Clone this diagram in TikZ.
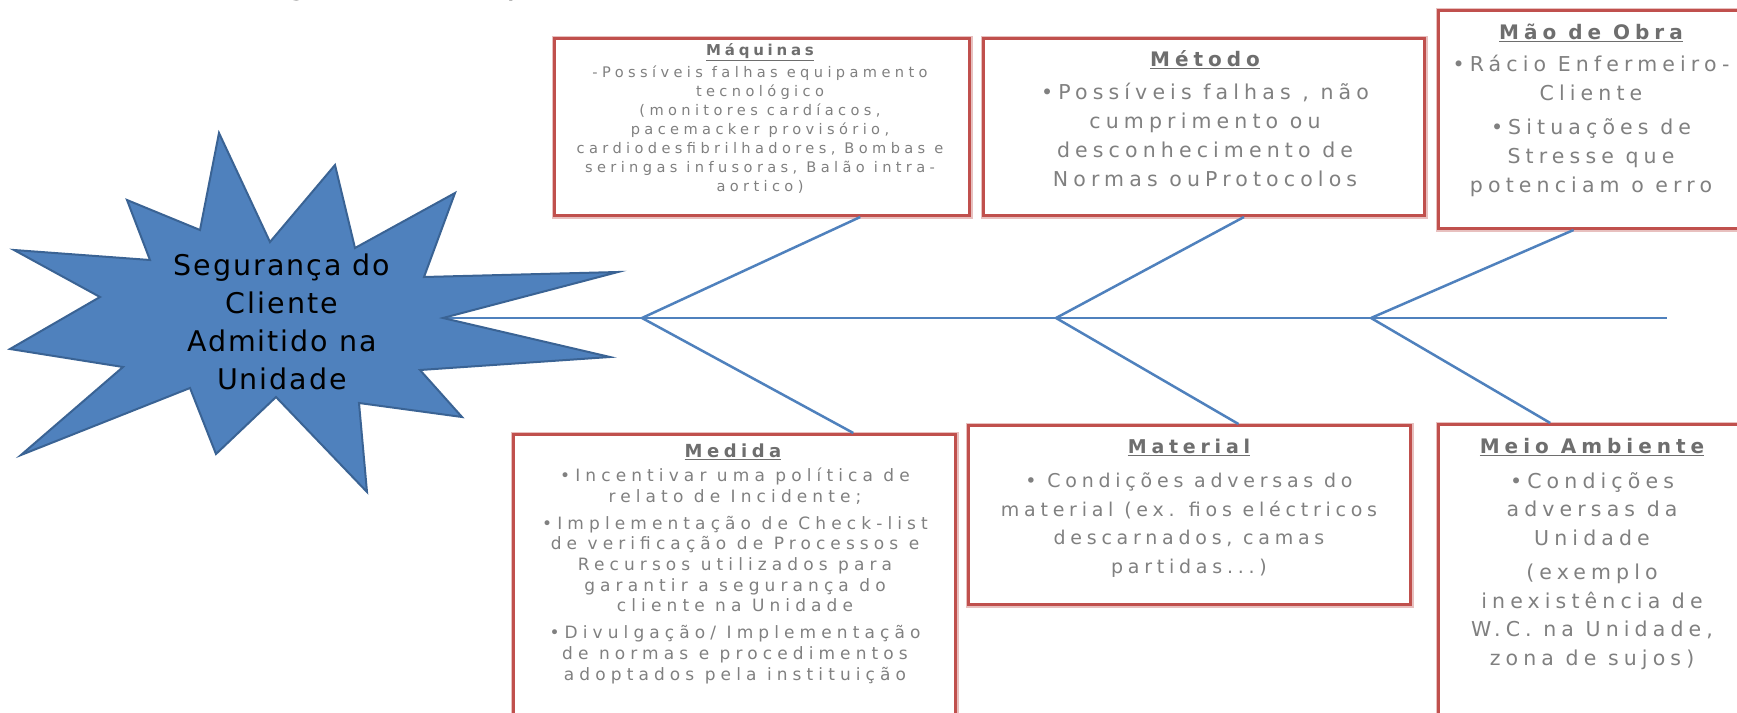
\documentclass[tikz,border=0pt]{standalone}
\usepackage{fontspec}
\setmainfont{DejaVu Sans}
\newfontfamily\bxf[LetterSpace=25]{DejaVu Sans}
\newfontfamily\bxfm[LetterSpace=30]{DejaVu Sans}
\newfontfamily\stf[LetterSpace=7]{DejaVu Sans}
\usetikzlibrary{calc}
\definecolor{boxred}{HTML}{C0504D}
\definecolor{boxpink}{HTML}{E8C0BF}
\definecolor{fishblue}{HTML}{4F81BD}
\definecolor{stardark}{HTML}{3A6394}
\definecolor{txtgray}{HTML}{808080}
\definecolor{ttlgray}{HTML}{6E6E6E}
\tikzset{
  causebox/.style={preaction={draw=boxpink,line width=6pt}, draw=boxred, line width=3pt, fill=white, inner sep=0pt, anchor=north west},
  bone/.style={draw=fishblue, line width=2.5pt},
  ttl/.style={text=ttlgray, inner sep=0pt},
  body/.style={text=txtgray, inner sep=0pt, align=center, anchor=base},
}
\newcommand{\ul}[1]{\underline{#1}}
\lineskiplimit=-100pt
\begin{document}
\begin{tikzpicture}[x=1pt,y=-1pt]
\useasboundingbox (0,0) rectangle (1737,712);
\clip (0,0) rectangle (1737,712);
\fill[white] (0,0) rectangle (1737,712);
% partially visible title
\node[anchor=base west, inner sep=0pt, font=\fontsize{35}{40}\selectfont] (title) at (228,-6) {Diagrama de Espinha de Peixe};
% spine and bones
\coordinate (head) at (443,318);
\coordinate (tail) at (1667,318);
\coordinate (b1) at (642,318);
\coordinate (b2) at (1056,318);
\coordinate (b3) at (1371,318);
\draw[bone] (head) -- (tail);
% boxes
\node[causebox, minimum width=415pt, minimum height=177pt] (maq) at (553,37) {};
\node[causebox, minimum width=441pt, minimum height=177pt] (met) at (982,37) {};
\node[causebox, minimum width=330pt, minimum height=218pt] (mao) at (1437,9) {};
\node[causebox, minimum width=442pt, minimum height=310pt] (med) at (512,433) {};
\node[causebox, minimum width=442pt, minimum height=179pt] (mat) at (967,424) {};
\node[causebox, minimum width=330pt, minimum height=320pt] (mei) at (1437,423) {};
\draw[bone] (b1) -- ($(maq.south west)!0.735!(maq.south east)$);
\draw[bone] (b1) -- ($(med.north west)!0.767!(med.north east)$);
\draw[bone] (b2) -- ($(met.south west)!0.59!(met.south east)$);
\draw[bone] (b2) -- ($(mat.north west)!0.61!(mat.north east)$);
\draw[bone] (b3) -- ($(mao.south west)!0.41!(mao.south east)$);
\draw[bone] (b3) -- ($(mei.north west)!0.34!(mei.north east)$);
% star
\filldraw[fill=fishblue, draw=stardark, line width=2pt]
  (219,133) -- (270,242) -- (335,165) -- (355,248) -- (455,193) -- (424,277)
  -- (618,272) -- (443,318) -- (610,357) -- (420,370) -- (462,417) -- (359,403)
  -- (367,492) -- (276,397) -- (216,454) -- (190,388) -- (21,455) -- (123,367)
  -- (10,349) -- (100,297) -- (14,250) -- (150,260) -- (127,200) -- (200,230) -- cycle;
\node[align=center, inner sep=0pt, font=\stf\fontsize{28.5}{38}\selectfont] (star) at (282,322)
  {Segurança do\\Cliente\\Admitido na\\Unidade};
% titles
\node[ttl, font=\bxf\bfseries\fontsize{15}{18}\selectfont] (maqt) at (760,52) {\ul{Máquinas}};
\node[ttl, font=\bxf\bfseries\fontsize{20}{22}\selectfont] (mett) at (1205,60) {\ul{Método}};
\node[ttl, font=\bxf\bfseries\fontsize{20}{22}\selectfont] (maot) at (1591,33) {\ul{Mão de Obra}};
\node[ttl, font=\bxf\bfseries\fontsize{18}{22}\selectfont] (medt) at (733,452) {\ul{Medida}};
\node[ttl, font=\bxf\bfseries\fontsize{19}{22}\selectfont] (matt) at (1189,447) {\ul{Material}};
\node[ttl, font=\bxf\bfseries\fontsize{20}{22}\selectfont] (meit) at (1592,447) {\ul{Meio Ambiente}};
% bodies (base anchor = baseline of last line)
\node[body, font=\bxfm\fontsize{14.6}{19}\selectfont] (maqb) at (760,191)
  {-Possíveis falhas equipamento\\tecnológico\\(monitores cardíacos,\\pacemacker provisório,\\cardiodesfibrilhadores, Bombas e\\seringas infusoras, Balão intra-\\aortico)};
\node[body, font=\bxf\fontsize{20.5}{29}\selectfont] (metb) at (1205,186)
  {•Possíveis falhas , não\\cumprimento ou\\desconhecimento de\\Normas ouProtocolos};
\node[body, font=\bxf\fontsize{20.5}{29}\selectfont] (maob) at (1591,192)
  {•Rácio Enfermeiro-\\Cliente\\[5pt]•Situações de\\Stresse que\\potenciam o erro};
\node[body, font=\bxfm\fontsize{17}{20.7}\selectfont] (medb) at (735,680)
  {•Incentivar uma política de\\relato de Incidente;\\[6pt]•Implementação de Check-list\\de verificação de Processos e\\Recursos utilizados para\\garantir a segurança do\\cliente na Unidade\\[6pt]•Divulgação/ Implementação\\de normas e procedimentos\\adoptados pela instituição};
\node[body, font=\bxf\fontsize{19}{28.5}\selectfont] (matb) at (1189,573)
  {• Condições adversas do\\material (ex. fios eléctricos\\descarnados, camas\\partidas...)};
\node[body, font=\bxf\fontsize{20.5}{28.5}\selectfont] (meib) at (1592,665)
  {•Condições\\adversas da\\Unidade\\[6pt](exemplo\\inexistência de\\W.C. na Unidade,\\zona de sujos)};
\end{tikzpicture}
\end{document}
